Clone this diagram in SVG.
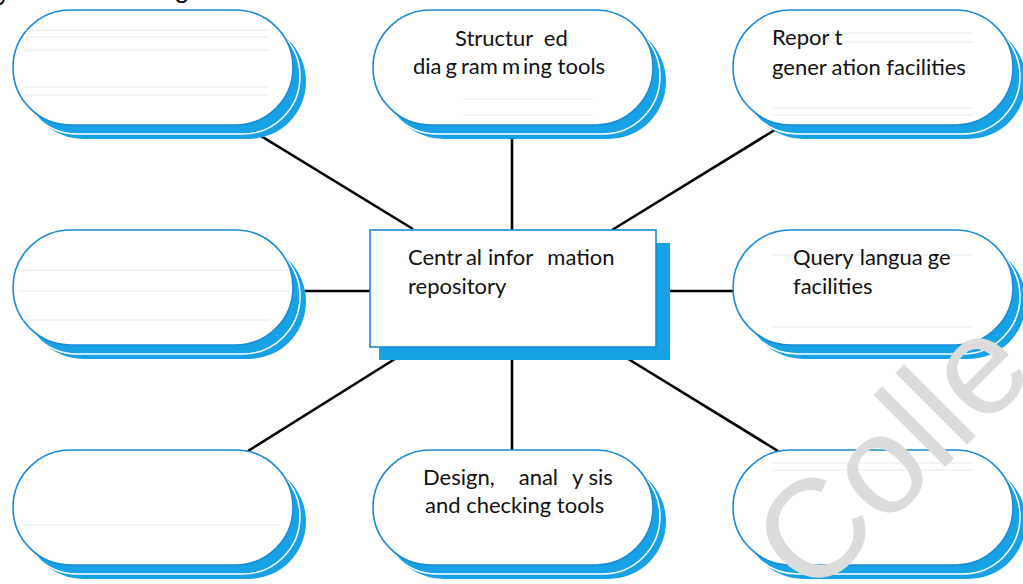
<svg xmlns="http://www.w3.org/2000/svg" width="1023" height="584" viewBox="0 0 1023 584">
<style>
.shadow{fill:#17a2e6;}
.gap{fill:none;stroke:#ffffff;stroke-width:1.5;}
.face{fill:#ffffff;stroke:#1a8ad8;stroke-width:1.6;}
.rule{stroke:#d3e6ec;stroke-width:1;opacity:0.7;}
.conn{stroke:#000;stroke-width:2.6;fill:none;}
.lbl{font-family:Lato,"Liberation Sans",sans-serif;font-size:22px;fill:#111;}
.wm{font-family:"Liberation Sans",Arial,sans-serif;font-size:140px;fill:#dcdcdc;}
.head{font-family:"Liberation Sans",Arial,sans-serif;font-size:28px;fill:#111;}
</style>
<defs>
<g id="pill">
<rect class="shadow" x="13" y="14" width="280" height="115" rx="57.5"/>
<rect class="gap" x="7" y="9" width="280" height="115" rx="57.5"/>
<rect class="face" x="0" y="0" width="280" height="115" rx="57.5"/>
</g>
</defs>
<rect width="1023" height="584" fill="#fff"/>
<text class="head" x="-3" y="-1">y</text>
<text class="head" x="174" y="-3">g</text>
<g id="connectors">
<line class="conn" x1="248" y1="128" x2="413" y2="229"/>
<line class="conn" x1="512" y1="127" x2="512" y2="231"/>
<line class="conn" x1="778" y1="128" x2="612" y2="230"/>
<line class="conn" x1="293" y1="291" x2="371" y2="291"/>
<line class="conn" x1="656" y1="291" x2="734" y2="291"/>
<line class="conn" x1="248" y1="451" x2="414" y2="347"/>
<line class="conn" x1="512" y1="347" x2="512" y2="451"/>
<line class="conn" x1="612" y1="349" x2="778" y2="451"/>
</g>
<g id="node-top-left" transform="translate(13,10)">
<use href="#pill"/>
<line class="rule" x1="12" y1="20" x2="256" y2="20"/>
<line class="rule" x1="12" y1="27" x2="256" y2="27"/>
<line class="rule" x1="10" y1="40" x2="256" y2="40"/>
<line class="rule" x1="10" y1="77" x2="256" y2="77"/>
<line class="rule" x1="12" y1="85" x2="256" y2="85"/>
</g>
<g id="node-structured" transform="translate(373,10)">
<use href="#pill"/>
<line class="rule" x1="90" y1="89" x2="220" y2="89"/>
<line class="rule" x1="90" y1="105" x2="220" y2="105"/>
<text class="lbl" x="82" y="36">Structur<tspan dx="11">ed</tspan></text>
<text class="lbl" x="40" y="64">dia<tspan dx="4">g</tspan><tspan dx="4">ram</tspan><tspan dx="4">m</tspan><tspan dx="3">ing tools</tspan></text>
</g>
<g id="node-report" transform="translate(733,10)">
<use href="#pill"/>
<line class="rule" x1="40" y1="23" x2="240" y2="23"/>
<line class="rule" x1="40" y1="32" x2="240" y2="32"/>
<line class="rule" x1="40" y1="98" x2="240" y2="98"/>
<line class="rule" x1="40" y1="105" x2="240" y2="105"/>
<text class="lbl" x="39" y="35">Repor<tspan dx="5">t</tspan></text>
<text class="lbl" x="39" y="65">gener<tspan dx="5">ation facilities</tspan></text>
</g>
<g id="node-mid-left" transform="translate(13,230)">
<use href="#pill"/>
<line class="rule" x1="10" y1="40" x2="276" y2="40"/>
<line class="rule" x1="5" y1="61" x2="276" y2="61"/>
<line class="rule" x1="10" y1="90" x2="256" y2="90"/>
</g>
<g id="node-central">
<rect class="shadow" x="379" y="243" width="291" height="117"/>
<rect class="face" x="370" y="230" width="286" height="117"/>
<text class="lbl" x="408" y="265">Centr<tspan dx="4">al</tspan><tspan dx="6">infor</tspan><tspan dx="14">mation</tspan></text>
<text class="lbl" x="408" y="294">repository</text>
</g>
<g id="node-query" transform="translate(733,230)">
<use href="#pill"/>
<line class="rule" x1="40" y1="25" x2="240" y2="25"/>
<line class="rule" x1="40" y1="97" x2="240" y2="97"/>
<text class="lbl" x="60" y="35">Query<tspan dx="6">langua</tspan><tspan dx="5">ge</tspan></text>
<text class="lbl" x="60" y="64">facilities</text>
</g>
<g id="node-bottom-left" transform="translate(13,450)">
<use href="#pill"/>
<line class="rule" x1="10" y1="75" x2="266" y2="75"/>
</g>
<g id="node-design" transform="translate(373,450)">
<use href="#pill"/>
<text class="lbl" x="50" y="35">Design,<tspan dx="24">anal</tspan><tspan dx="14">y sis</tspan></text>
<text class="lbl" x="52" y="63">and checking tools</text>
</g>
<g id="node-bottom-right" transform="translate(733,450)">
<use href="#pill"/>
<line class="rule" x1="40" y1="13" x2="240" y2="13"/>
<line class="rule" x1="40" y1="20" x2="240" y2="20"/>
</g>
<text class="wm" x="812" y="600" transform="rotate(-45 812 600)">Colle</text>
</svg>
